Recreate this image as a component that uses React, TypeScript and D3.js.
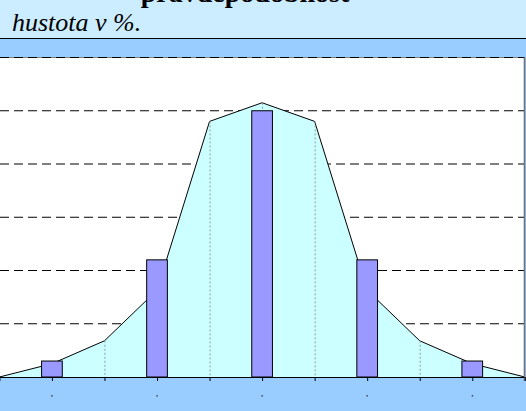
import React from "react";
import * as d3 from "d3";

const categories = ["0", "1", "2", "3", "4", "5", "6", "7", "8", "9", "10"];
const areaValues = [0, 2.5, 6.8, 16.3, 48, 51.5, 48, 16.3, 6.8, 2.5, 0];
const barValues: (number | null)[] = [null, 3, null, 22, null, 50, null, 22, null, 3, null];
const yTicks = [10, 20, 30, 40, 50, 60];
const tickLabels = ["", ",", "", ",", "", ",", "", ",", "", ",", ""];
const titleText = "pravděpodobnost";
const subtitleText = "hustota v %.";

const W = 526;
const H = 411;
const plotTop = 57.5;
const plotBottom = 377;
const plotRight = 524.5;
const serif = "'Liberation Serif', 'Times New Roman', serif";

export default function App() {
  const x = d3.scalePoint<string>().domain(categories).range([-0.6, 524.8]);
  const y = d3.scaleLinear().domain([0, 60]).range([plotBottom, plotTop]);
  const barW = 20.7;

  const pts = categories.map((c, i) => ({ c, v: areaValues[i] }));
  const areaGen = d3
    .area<{ c: string; v: number }>()
    .x((d) => x(d.c) as number)
    .y0(y(0))
    .y1((d) => y(d.v));
  const lineGen = d3
    .line<{ c: string; v: number }>()
    .x((d) => x(d.c) as number)
    .y((d) => y(d.v));

  return (
    <div style={{ position: "absolute", left: 0, top: 0 }}>
      <svg width={W} height={H} style={{ display: "block" }}>
        <defs>
          <clipPath id="plotClip">
            <rect x={0} y={0} width={plotRight + 0.5} height={plotBottom + 1} />
          </clipPath>
        </defs>
        {/* title band */}
        <rect x={0} y={0} width={W} height={38} fill="#CCECFF" />
        <text
          x={245}
          y={2}
          textAnchor="middle"
          fontFamily={serif}
          fontWeight="bold"
          fontSize={28}
          fill="#000"
        >
          {titleText}
        </text>
        <text x={12} y={31} fontFamily={serif} fontStyle="italic" fontSize={26} fill="#000">
          {subtitleText}
        </text>
        <line x1={0} x2={W} y1={38.5} y2={38.5} stroke="#000" strokeWidth={1} />
        {/* chart background band */}
        <rect x={0} y={39} width={W} height={H - 39} fill="#99CCFF" />
        {/* plot area */}
        <rect x={0} y={plotTop} width={plotRight} height={plotBottom - plotTop} fill="#FFFFFF" />
        <line x1={0} x2={plotRight} y1={plotTop} y2={plotTop} stroke="#808080" strokeWidth={1} />
        {/* gridlines */}
        {yTicks.map((t) => (
          <line
            key={t}
            x1={0}
            x2={plotRight}
            y1={y(t)}
            y2={y(t)}
            stroke="#000"
            strokeWidth={1}
            strokeDasharray="9,5"
          />
        ))}
        <g clipPath="url(#plotClip)">
          {/* area */}
          <path d={areaGen(pts) || ""} fill="#CCFFFF" />
          <path d={lineGen(pts) || ""} fill="none" stroke="#000" strokeWidth={1} />
          {/* drop lines */}
          {pts.slice(1, -1).map((d) => (
            <line
              key={d.c}
              x1={(x(d.c) as number) + 0.5}
              x2={(x(d.c) as number) + 0.5}
              y1={y(d.v)}
              y2={y(0)}
              stroke="#999999"
              strokeWidth={1}
              strokeDasharray="2,2"
            />
          ))}
          {/* bars */}
          {categories.map((c, i) => {
            const v = barValues[i];
            if (v == null) return null;
            const cx = x(c) as number;
            return (
              <rect
                key={c}
                x={cx - barW / 2}
                y={y(v)}
                width={barW}
                height={y(0) - y(v)}
                fill="#9999FF"
                stroke="#000"
                strokeWidth={1}
              />
            );
          })}
        </g>
        <line x1={plotRight} x2={plotRight} y1={plotTop} y2={plotBottom + 4} stroke="#6E7480" strokeWidth={1.6} />
        {/* axis line */}
        <line x1={0} x2={plotRight} y1={plotBottom + 0.5} y2={plotBottom + 0.5} stroke="#000" strokeWidth={1} />
        {categories.map((c) => (
          <line
            key={c}
            x1={(x(c) as number) + 0.5}
            x2={(x(c) as number) + 0.5}
            y1={plotBottom}
            y2={plotBottom + 4}
            stroke="#000"
            strokeWidth={1}
          />
        ))}
        {categories.map((c, i) => (
          <text
            key={c}
            x={x(c) as number}
            y={395.5}
            textAnchor="middle"
            fontFamily={serif}
            fontSize={9}
            fill="#000"
          >
            {tickLabels[i]}
          </text>
        ))}
      </svg>
    </div>
  );
}
